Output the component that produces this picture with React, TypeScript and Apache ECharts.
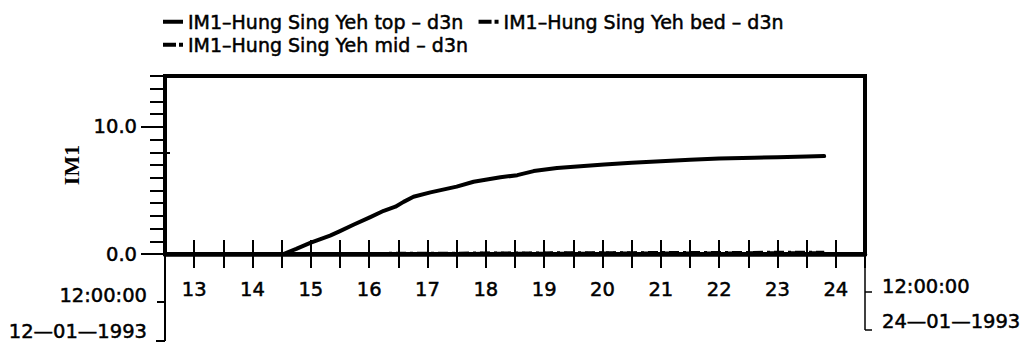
import React, { useEffect, useRef } from "react";
import * as echarts from "echarts";

const WIDTH = 1029;
const HEIGHT = 344;

// Series names
const seriesNames = [
  "IM1–Hung Sing Yeh top – d3n",
  "IM1–Hung Sing Yeh bed – d3n",
  "IM1–Hung Sing Yeh mid – d3n",
];

// Time as fractional day of January 1993, value of IM1
const topDays = [
  12.5, 13, 14, 14.53, 14.75, 15.0, 15.33, 15.5, 15.73, 16.02, 16.25, 16.45, 16.59, 16.76,
  17.05, 17.5, 17.79, 18.25, 18.54, 18.82, 19.22, 19.68, 20.03, 20.5, 21.0, 21.5, 22.0,
  22.6, 23.0, 23.5, 23.8,
];
const topValues = [
  0, 0, 0, 0, 0.4, 0.9, 1.45, 1.8, 2.3, 2.9, 3.4, 3.72, 4.1, 4.5,
  4.85, 5.3, 5.68, 6.03, 6.2, 6.52, 6.76, 6.92, 7.04, 7.18, 7.3, 7.42, 7.52,
  7.58, 7.6, 7.66, 7.7,
];

const bedDays = [12.5, 14.5, 17, 20, 23.8];
const bedValues = [0, 0.02, 0.06, 0.1, 0.14];

const midDays = [12.5, 14.5, 17, 20, 23.8];
const midValues = [0, 0.01, 0.04, 0.07, 0.1];

// Axis ranges and tick values
const xMin = 12.5;
const xMax = 24.5;
const xStep = 0.5;
const yMin = 0;
const yMax = 14;
const yStep = 1;
const yLabelValues = [0, 10];
const yInnerTickValues = [8];

// End-of-axis time stamps
const startTime = "12:00:00";
const startDate = "12—01—1993";
const endTime = "12:00:00";
const endDate = "24—01—1993";

const yTitle = "IM1";

const SANS = "DejaVu Sans";
const LABEL_SIZE = 19.5;
const INK = 0.5; // slight outline to give the plotter lettering its weight

const GRID_LEFT = 165;
const GRID_RIGHT = 164;
const GRID_TOP = 76;
const GRID_BOTTOM = 90;

const pairs = (xs: number[], ys: number[]) => xs.map((x, i) => [x, ys[i]]);

const SOLID_ICON = "rect";
const DASH_DOT_ICON = "path://M0,0H13V4H0Z M16,0H20V4H16Z";

function buildOption(): echarts.EChartsCoreOption {
  const axisX = GRID_LEFT;
  const axisRightX = WIDTH - GRID_RIGHT;
  const axisY = HEIGHT - GRID_BOTTOM;

  const legendBase = {
    orient: "horizontal",
    left: 163,
    padding: 0,
    itemGap: 15,
    itemWidth: 20,
    itemHeight: 4,
    selectedMode: false,
    itemStyle: { color: "#000", borderWidth: 0 },
    lineStyle: { width: 0 },
    textStyle: {
      fontFamily: SANS,
      fontSize: 19,
      color: "#000",
      textBorderColor: "#000",
      textBorderWidth: INK,
    },
  };

  const label = (text: string, x: number, y: number, align: string) => ({
    type: "text",
    x,
    y,
    style: {
      text,
      fontFamily: SANS,
      fontSize: LABEL_SIZE,
      fill: "#000",
      stroke: "#000",
      lineWidth: INK,
      align,
      verticalAlign: "middle",
    },
  });

  const seg = (x1: number, y1: number, x2: number, y2: number, w: number) => ({
    type: "line",
    shape: { x1, y1, x2, y2 },
    style: { stroke: "#000", lineWidth: w },
  });

  const axisLabelText = {
    fontFamily: SANS,
    fontSize: LABEL_SIZE,
    color: "#000",
    textBorderColor: "#000",
    textBorderWidth: INK,
  };

  return {
    animation: false,
    backgroundColor: "#fff",
    grid: {
      left: GRID_LEFT,
      right: GRID_RIGHT,
      top: GRID_TOP,
      bottom: GRID_BOTTOM,
      show: true,
      borderColor: "#000",
      borderWidth: 4,
      backgroundColor: "transparent",
    },
    legend: [
      {
        ...legendBase,
        top: 12,
        data: [
          { name: seriesNames[0], icon: SOLID_ICON },
          { name: seriesNames[1], icon: DASH_DOT_ICON },
        ],
      },
      {
        ...legendBase,
        top: 35,
        data: [{ name: seriesNames[2], icon: DASH_DOT_ICON }],
      },
    ],
    xAxis: [
      {
        type: "value",
        position: "bottom",
        min: xMin,
        max: xMax,
        interval: xStep,
        axisLine: { show: true, lineStyle: { color: "#000", width: 4.5 } },
        axisTick: { show: true, inside: false, length: 14, lineStyle: { color: "#000", width: 2 } },
        axisLabel: {
          ...axisLabelText,
          margin: 25,
          formatter: (v: number) => (Number.isInteger(v) ? String(v) : ""),
        },
        splitLine: { show: false },
      },
      {
        type: "value",
        position: "bottom",
        min: xMin,
        max: xMax,
        interval: xStep,
        axisLine: { show: false },
        axisTick: { show: true, inside: true, length: 14, lineStyle: { color: "#000", width: 2 } },
        axisLabel: { show: false },
        splitLine: { show: false },
      },
    ],
    yAxis: [
      {
        type: "value",
        position: "left",
        min: yMin,
        max: yMax,
        interval: yStep,
        name: yTitle,
        nameLocation: "middle",
        nameGap: 79,
        nameTextStyle: {
          fontFamily: "Liberation Serif",
          fontWeight: "bold",
          fontSize: 22,
          color: "#000",
        },
        axisLine: { show: true, lineStyle: { color: "#000", width: 3.5 } },
        axisTick: { show: true, inside: false, length: 15, lineStyle: { color: "#000", width: 2 } },
        axisLabel: {
          ...axisLabelText,
          customValues: yLabelValues,
          margin: 28,
          formatter: (v: number) => (yLabelValues.includes(v) ? v.toFixed(1) : ""),
        },
        splitLine: { show: false },
      },
      {
        type: "value",
        position: "left",
        min: yMin,
        max: yMax,
        interval: yStep,
        axisLine: { show: false },
        axisTick: {
          show: true,
          inside: false,
          customValues: yLabelValues,
          length: 24,
          lineStyle: { color: "#000", width: 2 },
        },
        axisLabel: { show: false },
        splitLine: { show: false },
      },
      {
        type: "value",
        position: "left",
        min: yMin,
        max: yMax,
        interval: yStep,
        axisLine: { show: false },
        axisTick: {
          show: true,
          inside: true,
          customValues: yInnerTickValues,
          length: 5,
          lineStyle: { color: "#000", width: 2 },
        },
        axisLabel: { show: false },
        splitLine: { show: false },
      },
    ],
    series: [
      {
        name: seriesNames[0],
        type: "line",
        xAxisIndex: 0,
        yAxisIndex: 0,
        data: pairs(topDays, topValues),
        showSymbol: false,
        symbol: "none",
        color: "#000",
        lineStyle: { color: "#000", width: 4, type: "solid", join: "round", cap: "round" },
      },
      {
        name: seriesNames[1],
        type: "line",
        xAxisIndex: 0,
        yAxisIndex: 0,
        data: pairs(bedDays, bedValues),
        showSymbol: false,
        symbol: "none",
        color: "#000",
        lineStyle: { color: "#000", width: 3, type: [10, 4, 3, 4] },
      },
      {
        name: seriesNames[2],
        type: "line",
        xAxisIndex: 0,
        yAxisIndex: 0,
        data: pairs(midDays, midValues),
        showSymbol: false,
        symbol: "none",
        color: "#000",
        lineStyle: { color: "#000", width: 3, type: [10, 4, 3, 4], dashOffset: 7 },
      },
    ],
    graphic: [
      // bracket below the start of the time axis
      seg(axisX, axisY, axisX, 341, 2),
      seg(157, 302, axisX, 302, 2),
      seg(156, 341, axisX, 341, 2),
      label(startTime, 147, 295, "right"),
      label(startDate, 147, 331, "right"),
      // bracket below the end of the time axis
      seg(axisRightX, axisY, axisRightX, 330, 1.5),
      seg(axisRightX, 292, axisRightX + 7, 292, 1.5),
      seg(axisRightX, 330, axisRightX + 7, 330, 1.5),
      label(endTime, 882, 286, "left"),
      label(endDate, 882, 321, "left"),
    ],
  };
}

export default function App() {
  const ref = useRef<HTMLDivElement>(null);

  useEffect(() => {
    if (!ref.current) return;
    const chart = echarts.init(ref.current, null, { renderer: "svg" });
    chart.setOption(buildOption());
    return () => {
      chart.dispose();
    };
  }, []);

  return (
    <div
      ref={ref}
      style={{
        position: "fixed",
        left: 0,
        top: 0,
        width: WIDTH,
        height: HEIGHT,
        background: "#fff",
      }}
    />
  );
}
